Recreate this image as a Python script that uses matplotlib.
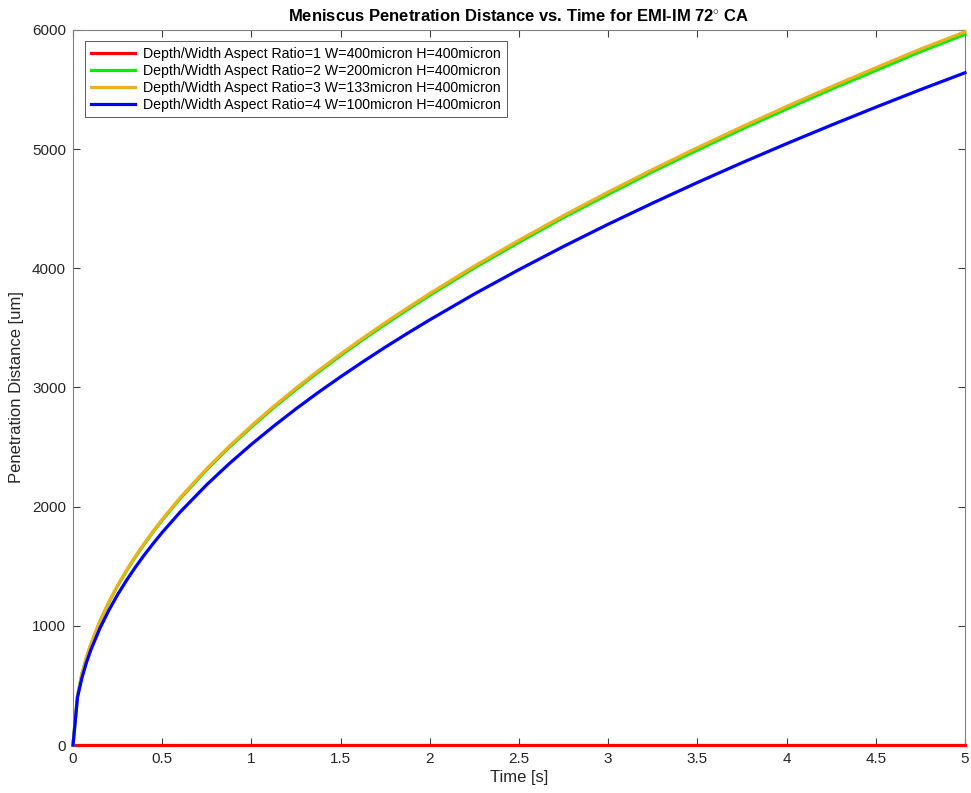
import matplotlib
matplotlib.use("Agg")
import matplotlib.pyplot as plt

plt.rcParams['font.family'] = ['Liberation Sans', 'DejaVu Sans']
plt.rcParams['mathtext.fontset'] = 'custom'
plt.rcParams['mathtext.rm'] = 'Liberation Sans'

time_s = [0, 0.025, 0.05, 0.075, 0.1, 0.15, 0.2, 0.25, 0.3, 0.35, 0.4, 0.45, 0.5, 0.6, 0.75,
          0.875, 1.0, 1.125, 1.25, 1.375, 1.5, 1.625, 1.75, 1.875, 2.0, 2.25, 2.5, 2.75,
          3.0, 3.25, 3.5, 3.75, 4.0, 4.25, 4.5, 4.75, 5.0]

ar1 = [0] * len(time_s)
ar2 = [0, 408, 597, 731, 844, 1034, 1193, 1335, 1461, 1579, 1687, 1790, 1886, 2067, 2311,
       2497, 2668, 2831, 2983, 3129, 3268, 3402, 3530, 3654, 3774, 4004, 4219, 4427,
       4621, 4812, 4992, 5169, 5337, 5503, 5660, 5818, 5963]
ar3 = [0, 410, 599, 734, 847, 1038, 1198, 1340, 1467, 1585, 1694, 1797, 1894, 2075, 2320,
       2506, 2679, 2842, 2995, 3141, 3281, 3415, 3544, 3668, 3789, 4019, 4236, 4443,
       4640, 4830, 5012, 5188, 5358, 5523, 5683, 5839, 5985]
ar4 = [0, 400, 564, 691, 798, 977, 1128, 1262, 1382, 1493, 1596, 1692, 1784, 1954, 2185,
       2360, 2523, 2676, 2821, 2959, 3090, 3216, 3338, 3455, 3568, 3785, 3989, 4184,
       4370, 4548, 4720, 4886, 5046, 5201, 5352, 5499, 5641]

labels = [
    "Depth/Width Aspect Ratio=1 W=400micron H=400micron",
    "Depth/Width Aspect Ratio=2 W=200micron H=400micron",
    "Depth/Width Aspect Ratio=3 W=133micron H=400micron",
    "Depth/Width Aspect Ratio=4 W=100micron H=400micron",
]
colors = ['#ff0000', '#00ee00', '#EDB120', '#0000ff']
xticks = [0, 0.5, 1, 1.5, 2, 2.5, 3, 3.5, 4, 4.5, 5]
xticklabels = ['0', '0.5', '1', '1.5', '2', '2.5', '3', '3.5', '4', '4.5', '5']
yticks = [0, 1000, 2000, 3000, 4000, 5000, 6000]

fig = plt.figure(figsize=(9.71, 7.93), dpi=100)
ax = fig.add_axes([0.0752, 0.0605, 0.9186, 0.9017])

for y, c, lab in zip([ar1, ar2, ar3, ar4], colors, labels):
    ax.plot(time_s, y, color=c, lw=2.3, label=lab, clip_on=False, zorder=3)

ax.set_xlim(0, 5)
ax.set_ylim(0, 6000)
ax.set_xticks(xticks)
ax.set_xticklabels(xticklabels)
ax.set_yticks(yticks)

for s in ax.spines.values():
    s.set_color('#808080')
    s.set_linewidth(0.8)
ax.tick_params(direction='in', top=True, right=True, length=5, width=0.8,
               color='#404040', labelsize=11, labelcolor='#262626', pad=5)

ax.set_xlabel('Time [s]', fontsize=12, color='#262626', labelpad=3)
ax.set_ylabel('Penetration Distance [um]', fontsize=12, color='#262626', labelpad=6)
ax.set_title('Meniscus Penetration Distance vs. Time for EMI-IM 72$^{\\circ}$ CA',
             fontsize=12, fontweight='bold', pad=6)

leg = ax.legend(loc='upper left', bbox_to_anchor=(0.0135, 0.984), fontsize=10.2,
                frameon=True, fancybox=False, edgecolor='#404040', framealpha=1,
                handlelength=3.1, handletextpad=0.6, borderpad=0.4,
                labelspacing=0.2, borderaxespad=0)
leg.get_frame().set_linewidth(0.6)

fig.savefig('out.png', dpi=100)
